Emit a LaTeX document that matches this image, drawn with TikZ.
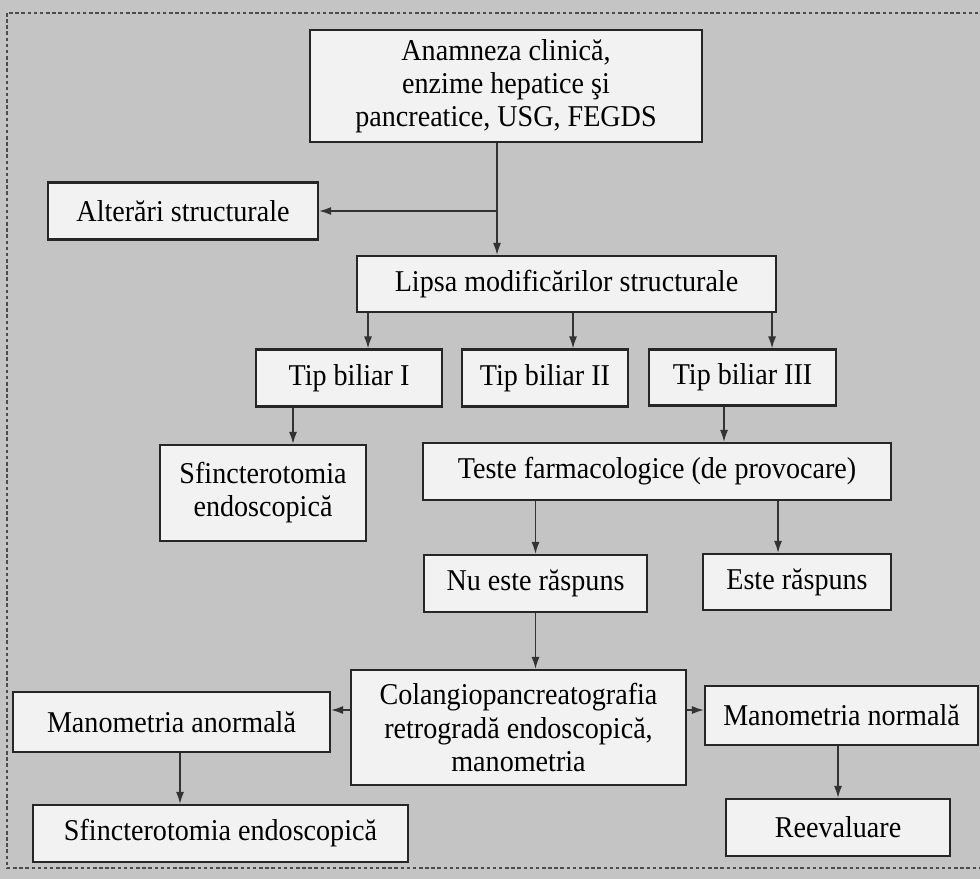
\documentclass[tikz,border=0pt]{standalone}
\usepackage{fontspec}
\setmainfont{Liberation Serif}[FakeStretch=0.93]
\usetikzlibrary{arrows.meta,calc}
\definecolor{paper}{gray}{0.77}
\definecolor{boxfill}{gray}{0.95}

\begin{document}
\begin{tikzpicture}[>={Latex[length=2.4mm,width=1.6mm]},
  font=\fontsize{17.2}{18.8}\selectfont,
  box/.style={draw=black!85,fill=boxfill,line width=1.2pt,align=center,inner sep=2pt},
  arr/.style={->,line width=0.9pt,black!80}]
  \fill[paper] (0,0) rectangle (19.6,-17.58);
  \useasboundingbox (0,0) rectangle (19.6,-17.58);
  \draw[black!70,line width=0.8pt,dash pattern=on 2pt off 1.5pt] (0.14,-0.26) rectangle (20,-17.36);
  \node[box,minimum width=7.84cm,minimum height=2.24cm] (anam) at (10.12,-1.72)
    {Anamneza clinică,\\enzime hepatice şi\\pancreatice, USG, FEGDS};
  \node[box,minimum width=5.4cm,minimum height=1.14cm] (alter) at (3.66,-4.22) {Alterări structurale};
  \node[box,minimum width=8.38cm,minimum height=1.12cm] (lipsa) at (11.33,-5.68) {Lipsa modificărilor structurale};
  \node[box,minimum width=3.72cm,minimum height=1.14cm] (tip1) at (6.98,-7.56) {Tip biliar I};
  \node[box,minimum width=3.32cm,minimum height=1.14cm] (tip2) at (10.9,-7.56) {Tip biliar II};
  \node[box,minimum width=3.74cm,minimum height=1.12cm] (tip3) at (14.85,-7.55) {Tip biliar III};
  \node[box,minimum width=4.12cm,minimum height=1.92cm] (sfincta) at (5.26,-9.86) {Sfincterotomia\\endoscopică};
  \node[box,minimum width=9.36cm,minimum height=1.14cm] (teste) at (13.14,-9.43) {Teste farmacologice (de provocare)};
  \node[box,minimum width=4.46cm,minimum height=1.14cm] (nueste) at (10.71,-11.67) {Nu este răspuns};
  \node[box,minimum width=3.76cm,minimum height=1.12cm] (este) at (15.94,-11.64) {Este răspuns};
  \node[box,minimum width=6.7cm,minimum height=2.3cm] (colangio) at (10.37,-14.55)
    {Colangiopancreatografia\\retrogradă endoscopică,\\manometria};
  \node[box,minimum width=6.34cm,minimum height=1.2cm] (mananorm) at (3.43,-14.44) {Manometria anormală};
  \node[box,minimum width=5.46cm,minimum height=1.18cm] (mannorm) at (16.83,-14.31) {Manometria normală};
  \node[box,minimum width=7.5cm,minimum height=1.14cm] (sfinctb) at (4.41,-16.67) {Sfincterotomia endoscopică};
  \node[box,minimum width=4.48cm,minimum height=1.14cm] (reeval) at (16.76,-16.55) {Reevaluare};

  \draw[arr] ([xshift=-1.8mm]anam.south) -- ([xshift=-1.8mm]anam.south |- lipsa.north);
  \draw[arr] ([xshift=-1.8mm]anam.south |- alter.east) -- (alter.east);
  \draw[arr] ([xshift=3.8mm]tip1.north |- lipsa.south) -- ([xshift=3.8mm]tip1.north);
  \draw[arr] ([xshift=5.6mm]tip2.north |- lipsa.south) -- ([xshift=5.6mm]tip2.north);
  \draw[arr] ([xshift=-1mm]lipsa.south east) -- ([xshift=-1mm]lipsa.south east |- tip3.north);
  \draw[arr] ([xshift=6mm]sfincta.north |- tip1.south) -- ([xshift=6mm]sfincta.north);
  \draw[arr] ([xshift=-3.7mm]tip3.south) -- ([xshift=-3.7mm]tip3.south |- teste.north);
  \draw[arr] (nueste.north |- teste.south) -- (nueste.north);
  \draw[arr] ([xshift=-3.8mm]este.north |- teste.south) -- ([xshift=-3.8mm]este.north);
  \draw[arr] (nueste.south) -- (nueste.south |- colangio.north);
  \draw[arr] ([yshift=3.5mm]colangio.west) -- ([yshift=3.5mm]colangio.west -| mananorm.east);
  \draw[arr] ([yshift=3.5mm]colangio.east) -- ([yshift=3.5mm]colangio.east -| mannorm.west);
  \draw[arr] ([xshift=1.7mm]mananorm.south) -- ([xshift=1.7mm]mananorm.south |- sfinctb.north);
  \draw[arr] (reeval.north |- mannorm.south) -- (reeval.north);
\end{tikzpicture}
\end{document}
